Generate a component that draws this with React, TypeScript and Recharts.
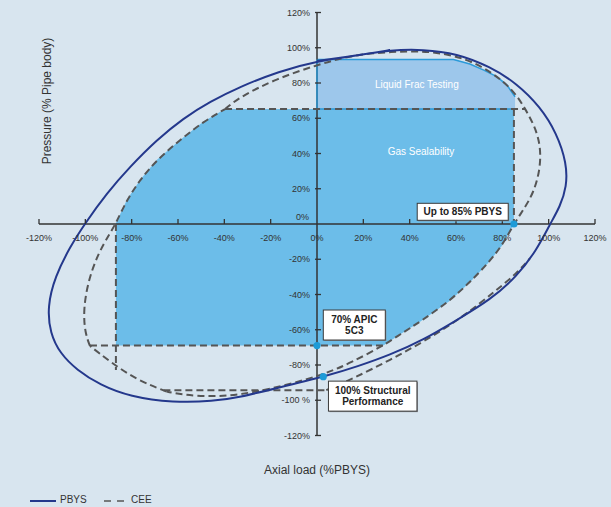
import React from 'react';
import { ComposedChart, XAxis, YAxis, Line, Area, Scatter } from 'recharts';

type P = [number, number];

// PBYS envelope (solid), read clockwise from the top crossing of the pressure axis.
// The first points are repeated at the end so the closed curve joins smoothly.
const pbysPoints: P[] = [
  [0, 92.5], [18.6, 95.9], [31.5, 98.7], [45.9, 99.1], [60.3, 96.8], [74.7, 89.3], [86.2, 79.8],
  [96.3, 66.6], [103.5, 51.5], [107.8, 34.4], [107.8, 21.2], [104.9, 9.8], [100.6, 0],
  [94.8, -14.8], [86.2, -29.9], [74.7, -43.1], [60.3, -54.5], [45.9, -65.8], [31.5, -74.3],
  [17.1, -81], [5.6, -85.7], [-18.8, -93.6], [-33.2, -98.2], [-44.8, -100.6], [-62, -101.4],
  [-80.7, -98], [-93.7, -91.3], [-103.7, -82.8], [-110.9, -73.4], [-115.2, -62], [-116.4, -46.9],
  [-113.1, -29.9], [-106.6, -12.9], [-100.1, 0.4], [-90.8, 17.4], [-80.7, 32.5], [-69.2, 47.7],
  [-57.7, 60], [-46.2, 69.4], [-33.2, 77.9], [-16.5, 86.6], [0, 92.5], [18.6, 95.9], [31.5, 98.7],
];

// CEE envelope (dashed) pieces
const ceeLeft: P[] = [
  [-98, -69.2], [-100.1, -62], [-100.9, -48.8], [-98.7, -31.8], [-94.4, -16.6], [-89.4, -5.3],
  [-86.8, 0.4], [-82.1, 13.6], [-76.4, 25], [-69.2, 36.3], [-59.1, 47.7], [-49.1, 58], [-39.7, 65.2],
];
const ceeMain: P[] = [
  [-39.7, 65.2], [-33.2, 72.2], [-17.4, 82.5], [0, 90.2], [14.3, 95.6], [31.5, 97.8], [48.8, 98.3],
  [64.6, 94], [76.1, 85.5], [84.7, 76], [89.8, 65.6], [94.1, 55.2], [96.6, 43.9], [96.3, 30.6],
  [93.4, 17.4], [89, 7.9], [85, 0], [80, -12], [74, -22], [66, -33], [57.4, -43.5], [44.5, -55.5],
  [36, -62.5], [28.6, -69], [14.2, -79], [5.6, -83.8], [-5, -88.5], [-20, -93.5], [-33.2, -96.8],
  [-44.8, -98], [-57.7, -97], [-64.9, -95.1],
];
const ceeDiagonal: P[] = [[-64.9, -95.1], [-77.8, -88.5], [-89.4, -78.1], [-98, -69.2]];
const ceeLowerFlat: P[] = [[-66.3, -94.3], [4, -94.3]];
const ceeOuter: P[] = [
  [4, -94.3], [15.7, -87.6], [31.5, -77.2], [47.3, -65.8], [63.1, -52.6], [77.6, -37.4],
  [86.2, -28], [91.9, -19.5],
];
const gasTopEdge: P[] = [[-39.7, 65.2], [89.8, 65.2]];
const gasBottomEdge: P[] = [[-98, -69], [28.6, -69]];
const gasRightEdge: P[] = [[85, 65.2], [85, 0]];
const gasLeftEdge: P[] = [[-86.8, 0], [-86.8, -82.8]];
const liquidLeftEdge: P[] = [[0, 65.2], [0, 93.3]];

// Shaded regions: axial load with [low, high] pressure
const gasX = [-86.8, -82.1, -76.4, -69.2, -59.1, -49.1, -39.7, 28.6, 36, 44.5, 57.4, 66, 74, 80, 85];
const gasLow = [-69, -69, -69, -69, -69, -69, -69, -69, -62.5, -55.5, -43.5, -33, -22, -12, 0];
const gasHigh = [0.4, 13.6, 25, 36.3, 47.7, 58, 65.2, 65.2, 65.2, 65.2, 65.2, 65.2, 65.2, 65.2, 65.2];

const liquidX = [0, 58.9, 66, 72, 77.6, 82, 85.5];
const liquidLow = [65.2, 65.2, 65.2, 65.2, 65.2, 65.2, 65.2];
const liquidHigh = [93.3, 93.3, 90.8, 87.3, 83.6, 78.8, 72.2];

// Axes ticks
const xTickValues = [-120, -100, -80, -60, -40, -20, 0, 20, 40, 60, 80, 100, 120];
const xTickLabels = ['-120%', '-100%', '-80%', '-60%', '-40%', '-20%', '0%', '20%', '40%', '60%', '80%', '100%', '120%'];
const yTickValues = [120, 100, 80, 60, 40, 20, 0, -20, -40, -60, -80, -100, -120];
const yTickLabels = ['120%', '100%', '80%', '60%', '40%', '20%', '0%', '-20%', '-40%', '-60%', '-80%', '-100 %', '-120%'];

// Highlighted points with callouts
const markX = [85, 0, 2.7];
const markY = [0, -69, -86.6];
const markText = [['Up to 85% PBYS'], ['70% APIC', '5C3'], ['100% Structural', 'Performance']];

const regionLabelX = [43.1, 44.9];
const regionLabelY = [78.9, 41.4];
const regionLabelText = ['Liquid Frac Testing', 'Gas Sealability'];

const toXY = (pts: P[]) => pts.map(([x, y]) => ({ x, y }));
const axisH = [{ x: -120, y: 0 }, { x: 120, y: 0 }];
const axisV = [{ x: 0, y: -120 }, { x: 0, y: 120 }];

const gasData = gasX.map((x, i) => ({ x, range: [gasLow[i], gasHigh[i]] }));
const liquidData = liquidX.map((x, i) => ({ x, range: [liquidLow[i], liquidHigh[i]] }));
const xTicks = xTickValues.map((x, i) => ({ x, y: 0, label: xTickLabels[i] }));
const yTicks = yTickValues.map((y, i) => ({ x: 0, y, label: yTickLabels[i] }));
const marks = markX.map((x, i) => ({ x, y: markY[i], lines: markText[i], idx: i }));
const regionLabels = regionLabelX.map((x, i) => ({ x, y: regionLabelY[i], label: regionLabelText[i] }));

const FONT = "'Liberation Sans', Arial, sans-serif";
const BG = '#d8e5ef';
const NAVY = '#24388c';
const DASH = '#555555';
const TXT = '#333333';

const XTick = (props: any) => {
  const { cx, cy, payload } = props;
  return (
    <g>
      {payload.x !== 0 && <line x1={cx} x2={cx} y1={cy} y2={cy - 5} stroke={TXT} strokeWidth={1.3} />}
      <text x={cx} y={cy + 16.5} textAnchor="middle" fontSize={9} fill={TXT} fontFamily={FONT}>
        {payload.label}
      </text>
    </g>
  );
};

const YTick = (props: any) => {
  const { cx, cy, payload } = props;
  const zero = payload.y === 0;
  return (
    <g>
      {!zero && <line x1={cx - 2} x2={cx + 4} y1={cy} y2={cy} stroke={TXT} strokeWidth={1.3} />}
      <text x={zero ? cx - 8 : cx - 7} y={zero ? cy - 4 : cy + 3} textAnchor="end" fontSize={9} fill={TXT} fontFamily={FONT}>
        {payload.label}
      </text>
    </g>
  );
};

const boxLayout = [
  { dx: -96.7, dy: -20.7, w: 91, h: 17 },
  { dx: 6.3, dy: -35.6, w: 62, h: 30 },
  { dx: 5.2, dy: 4.5, w: 88.5, h: 30 },
];

const Mark = (props: any) => {
  const { cx, cy, payload } = props;
  const b = boxLayout[payload.idx];
  const x0 = cx + b.dx;
  const y0 = cy + b.dy;
  const lines: string[] = payload.lines;
  return (
    <g>
      <rect x={x0 + 1} y={y0 + 1} width={b.w} height={b.h} fill="#8a8f94" />
      <rect x={x0} y={y0} width={b.w} height={b.h} fill="#ffffff" stroke="#3a3a3a" strokeWidth={1} />
      {lines.map((t, i) => (
        <text
          key={i}
          x={x0 + b.w / 2}
          y={lines.length === 1 ? y0 + b.h / 2 + 3.6 : y0 + 12.5 + i * 11}
          textAnchor="middle"
          fontSize={10}
          fontWeight="bold"
          fill="#222"
          fontFamily={FONT}
        >
          {t}
        </text>
      ))}
      <circle cx={cx} cy={cy} r={3.6} fill="#1e9bd7" />
    </g>
  );
};

const RegionLabel = (props: any) => {
  const { cx, cy, payload } = props;
  return (
    <text x={cx} y={cy + 3.5} textAnchor="middle" fontSize={10} fill="#ffffff" fontFamily={FONT}>
      {payload.label}
    </text>
  );
};

const dashedLine = (pts: P[], key: string, type: any = 'basis') => (
  <Line
    key={key}
    data={toXY(pts)}
    dataKey="y"
    type={type}
    stroke={DASH}
    strokeWidth={2}
    strokeDasharray="7 4"
    dot={false}
    activeDot={false}
    isAnimationActive={false}
  />
);

export default function App() {
  return (
    <div style={{ position: 'absolute', left: 0, top: 0, width: 611, height: 507, background: BG, overflow: 'hidden' }}>
      <ComposedChart width={611} height={507} margin={{ top: 12.5, right: 16, bottom: 71.5, left: 39 }}>
        <XAxis type="number" dataKey="x" domain={[-120, 120]} tickCount={13} hide />
        <YAxis type="number" dataKey="y" domain={[-120, 120]} tickCount={13} hide />
        <Area data={gasData} dataKey="range" type="linear" fill="#6cbde9" fillOpacity={1} stroke="none" isAnimationActive={false} />
        <Area data={liquidData} dataKey="range" type="linear" fill="#9dc7eb" fillOpacity={1} stroke="#2b9ad9" strokeWidth={1.5} isAnimationActive={false} />
        <Line data={axisH} dataKey="y" type="linear" stroke={TXT} strokeWidth={1.5} dot={false} activeDot={false} isAnimationActive={false} />
        <Line data={axisV} dataKey="y" type="linear" stroke={TXT} strokeWidth={1.5} dot={false} activeDot={false} isAnimationActive={false} />
        <Line data={toXY(liquidLeftEdge)} dataKey="y" type="linear" stroke="#2b9ad9" strokeWidth={1.5} dot={false} activeDot={false} isAnimationActive={false} />
        {dashedLine(gasLeftEdge, 'gl', 'linear')}
        {dashedLine(gasRightEdge, 'gr', 'linear')}
        {dashedLine(gasTopEdge, 'gt', 'linear')}
        {dashedLine(gasBottomEdge, 'gb', 'linear')}
        {dashedLine(ceeLeft, 'cl')}
        {dashedLine(ceeMain, 'cm')}
        {dashedLine(ceeDiagonal, 'cd')}
        {dashedLine(ceeLowerFlat, 'cf', 'linear')}
        {dashedLine(ceeOuter, 'co')}
        <Line data={toXY(pbysPoints)} dataKey="y" type="basis" stroke={NAVY} strokeWidth={2} dot={false} activeDot={false} isAnimationActive={false} />
        <Scatter data={xTicks} dataKey="y" shape={XTick} isAnimationActive={false} />
        <Scatter data={yTicks} dataKey="y" shape={YTick} isAnimationActive={false} />
        <Scatter data={regionLabels} dataKey="y" shape={RegionLabel} isAnimationActive={false} />
        <Scatter data={marks} dataKey="y" shape={Mark} isAnimationActive={false} />
      </ComposedChart>
      <svg width={611} height={507} style={{ position: 'absolute', left: 0, top: 0, pointerEvents: 'none' }}>
        <text transform="translate(50.5,101) rotate(-90)" textAnchor="middle" fontSize={12} fill={TXT} fontFamily={FONT}>
          Pressure (% Pipe body)
        </text>
        <text x={317} y={474} textAnchor="middle" fontSize={12} fill={TXT} fontFamily={FONT}>
          Axial load (%PBYS)
        </text>
        <line x1={30} x2={56} y1={501} y2={501} stroke={NAVY} strokeWidth={2} />
        <text x={60} y={503} fontSize={10} fill={TXT} fontFamily={FONT}>PBYS</text>
        <line x1={104} x2={127} y1={501} y2={501} stroke={DASH} strokeWidth={1.5} strokeDasharray="7 6" />
        <text x={131} y={503} fontSize={10} fill={TXT} fontFamily={FONT}>CEE</text>
      </svg>
    </div>
  );
}
